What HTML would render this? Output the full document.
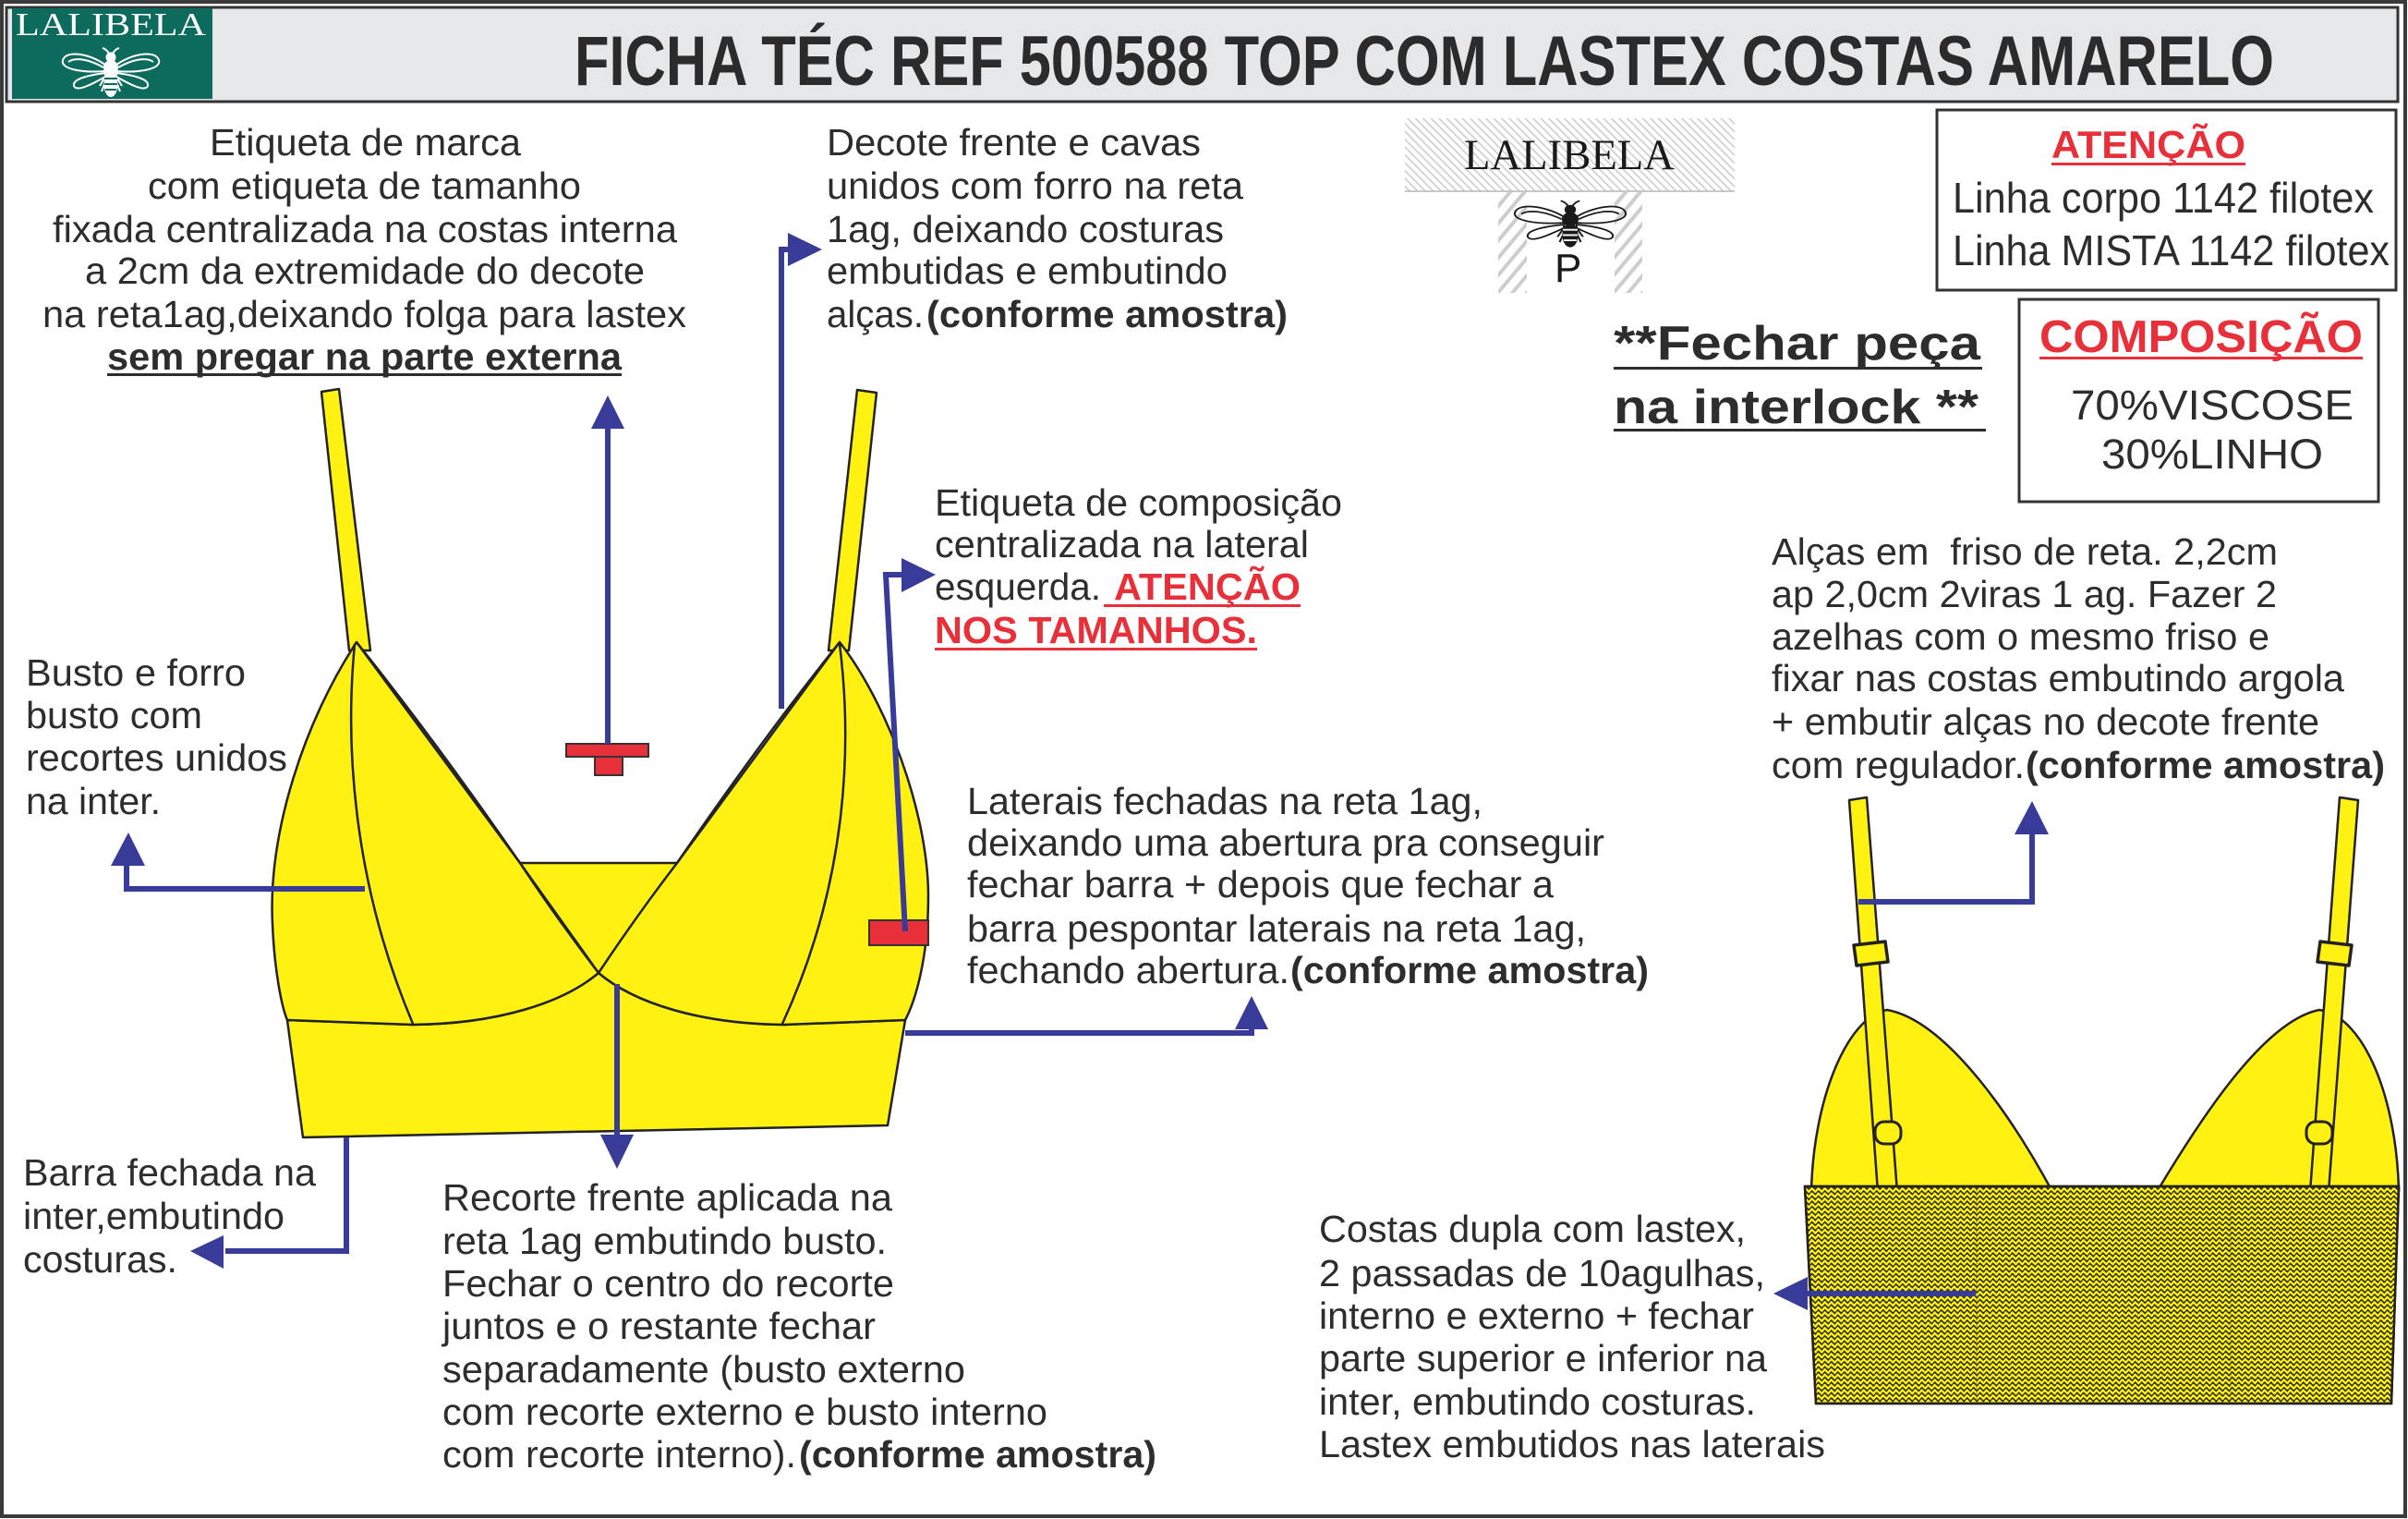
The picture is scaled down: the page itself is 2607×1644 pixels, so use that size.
<!DOCTYPE html>
<html><head><meta charset="utf-8"><style>
html,body{margin:0;padding:0;background:#fff;}
svg{display:block;}
.t{font-family:"Liberation Sans",Arial,sans-serif;font-size:41px;fill:#2d2d2d;}
.b{font-weight:bold;}
.r{fill:#e8303a;}
</style></head><body>
<svg width="2607" height="1644" viewBox="0 0 2607 1644" xmlns="http://www.w3.org/2000/svg">
<defs>
<pattern id="hatchA" patternUnits="userSpaceOnUse" width="6" height="6" patternTransform="rotate(-45)"><line x1="3" y1="0" x2="3" y2="6" stroke="#c6c6c6" stroke-width="1.4"/></pattern>
<pattern id="hatchB" patternUnits="userSpaceOnUse" width="12" height="12" patternTransform="rotate(40)"><line x1="6" y1="0" x2="6" y2="12" stroke="#cdcdcd" stroke-width="4"/></pattern>
<pattern id="zig" patternUnits="userSpaceOnUse" width="7" height="5.6"><path d="M0,2.8 L1.75,1.0 L5.25,4.6 L7,2.8" stroke="#26261a" stroke-width="1.6" fill="none"/></pattern>
</defs>

<!-- outer frame -->
<rect x="2" y="2" width="2602" height="1639" fill="#fff" stroke="#3a3a3a" stroke-width="4"/>
<!-- header -->
<rect x="7" y="8" width="2589" height="102" fill="#e6e7e8" stroke="#333" stroke-width="3"/>
<rect x="13" y="9" width="217" height="98" fill="#0d6b5e"/>
<text x="17" y="38" font-family="'Liberation Serif',serif" font-size="35" fill="#fff" textLength="206" lengthAdjust="spacingAndGlyphs">LALIBELA</text>
<!-- logo bee -->
<g transform="translate(120,79)" stroke="#fff" fill="none" stroke-width="2">
<path d="M-5,-8 C-20,-20 -48,-26 -52,-14 C-55,-4 -30,0 -6,-2 Z"/>
<path d="M-8,-6 C-22,-14 -38,-18 -46,-12"/>
<path d="M-6,0 C-22,2 -42,6 -40,14 C-37,21 -20,12 -6,4 Z"/>
<path d="M5,-8 C20,-20 48,-26 52,-14 C55,-4 30,0 6,-2 Z"/>
<path d="M8,-6 C22,-14 38,-18 46,-12"/>
<path d="M6,0 C22,2 42,6 40,14 C37,21 20,12 6,4 Z"/>
<path d="M-2,-21 Q-5,-26 -9,-27 M2,-21 Q5,-26 9,-27"/>
<path d="M-6,4 L-12,14 M6,4 L12,14 M-6,10 L-10,20 M6,10 L10,20"/>
<circle cx="0" cy="-17" r="4.5" fill="#fff"/>
<ellipse cx="0" cy="-6" rx="7" ry="7" fill="#fff"/>
<ellipse cx="0" cy="12" rx="6.5" ry="13" fill="#fff"/>
<path d="M-7,6 L7,6 M-7,12 L7,12 M-6,18 L6,18" stroke="#0d6b5e" stroke-width="2"/>
</g>
<text x="622" y="92" font-family="'Liberation Sans',Arial,sans-serif" font-weight="bold" font-size="76" fill="#2b2b2b" textLength="1840" lengthAdjust="spacingAndGlyphs">FICHA TÉC REF 500588 TOP COM LASTEX COSTAS AMARELO</text>

<!-- tag -->
<rect x="1521" y="128" width="357" height="79" fill="url(#hatchA)"/>
<line x1="1521" y1="207" x2="1878" y2="207" stroke="#b5b5b5" stroke-width="1.5"/>
<text x="1585" y="183" font-family="'Liberation Serif',serif" font-size="47" fill="#1a1a1a" textLength="228" lengthAdjust="spacingAndGlyphs">LALIBELA</text>
<rect x="1622" y="208" width="31" height="109" fill="url(#hatchB)"/>
<rect x="1748" y="208" width="30" height="109" fill="url(#hatchB)"/>
<g transform="translate(1700,243) scale(1.15,0.95)" stroke="#1a1a1a" fill="none" stroke-width="1.8">
<path d="M-5,-8 C-20,-20 -48,-26 -52,-14 C-55,-4 -30,0 -6,-2 Z"/>
<path d="M-8,-6 C-22,-14 -38,-18 -46,-12"/>
<path d="M-6,0 C-22,2 -42,6 -40,14 C-37,21 -20,12 -6,4 Z"/>
<path d="M5,-8 C20,-20 48,-26 52,-14 C55,-4 30,0 6,-2 Z"/>
<path d="M8,-6 C22,-14 38,-18 46,-12"/>
<path d="M6,0 C22,2 42,6 40,14 C37,21 20,12 6,4 Z"/>
<path d="M-2,-21 Q-5,-26 -9,-27 M2,-21 Q5,-26 9,-27"/>
<path d="M-6,4 L-12,14 M6,4 L12,14 M-6,10 L-10,20 M6,10 L10,20"/>
<circle cx="0" cy="-17" r="4.5" fill="#1a1a1a"/>
<ellipse cx="0" cy="-6" rx="7" ry="7" fill="#1a1a1a"/>
<ellipse cx="0" cy="12" rx="6.5" ry="13" fill="#1a1a1a"/>
<path d="M-7,6 L7,6 M-7,12 L7,12 M-6,18 L6,18" stroke="#fff" stroke-width="2"/>
</g>
<text x="1683" y="305" font-family="'Liberation Sans',Arial,sans-serif" font-size="44" fill="#1a1a1a">P</text>

<!-- right boxes -->
<rect x="2097" y="119" width="497" height="195" fill="#fff" stroke="#333" stroke-width="3"/>
<text class="t b r" x="2221" y="171" style="font-size:42px" textLength="210" lengthAdjust="spacingAndGlyphs">ATENÇÃO</text>
<rect x="2221" y="176" width="210" height="3" fill="#e8303a"/>
<text class="t" x="2114" y="230" style="font-size:46px" textLength="456" lengthAdjust="spacingAndGlyphs">Linha corpo 1142 filotex</text>
<text class="t" x="2114" y="287" style="font-size:46px" textLength="473" lengthAdjust="spacingAndGlyphs">Linha MISTA 1142 filotex</text>

<rect x="2186" y="324" width="389" height="219" fill="#fff" stroke="#333" stroke-width="3"/>
<text class="t b r" x="2208" y="381" style="font-size:49px" textLength="350" lengthAdjust="spacingAndGlyphs">COMPOSIÇÃO</text>
<rect x="2208" y="386" width="350" height="3" fill="#e8303a"/>
<text class="t" x="2242" y="454" style="font-size:45px" textLength="306" lengthAdjust="spacingAndGlyphs">70%VISCOSE</text>
<text class="t" x="2275" y="507" style="font-size:45px" textLength="240" lengthAdjust="spacingAndGlyphs">30%LINHO</text>

<text class="t b" x="1747" y="389" style="font-size:52px" textLength="397" lengthAdjust="spacingAndGlyphs">**Fechar peça</text>
<rect x="1747" y="397" width="399" height="3" fill="#2d2d2d"/>
<text class="t b" x="1747" y="458" style="font-size:52px" textLength="395" lengthAdjust="spacingAndGlyphs">na interlock **</text>
<rect x="1747" y="464" width="403" height="3" fill="#2d2d2d"/>

<!-- left top block -->
<text class="t" x="227" y="168" textLength="337" lengthAdjust="spacingAndGlyphs">Etiqueta de marca</text>
<text class="t" x="160" y="215" textLength="469" lengthAdjust="spacingAndGlyphs">com etiqueta de tamanho</text>
<text class="t" x="57" y="262" textLength="676" lengthAdjust="spacingAndGlyphs">fixada centralizada na costas interna</text>
<text class="t" x="92" y="307" textLength="606" lengthAdjust="spacingAndGlyphs">a 2cm da extremidade do decote</text>
<text class="t" x="46" y="354" textLength="697" lengthAdjust="spacingAndGlyphs">na reta1ag,deixando folga para lastex</text>
<text class="t b" x="116" y="400" textLength="557" lengthAdjust="spacingAndGlyphs">sem pregar na parte externa</text>
<rect x="116" y="404" width="557" height="3" fill="#2d2d2d"/>

<!-- decote block -->
<text class="t" x="895" y="168" textLength="405" lengthAdjust="spacingAndGlyphs">Decote frente e cavas</text>
<text class="t" x="895" y="215" textLength="451" lengthAdjust="spacingAndGlyphs">unidos com forro na reta</text>
<text class="t" x="895" y="262" textLength="430" lengthAdjust="spacingAndGlyphs">1ag, deixando costuras</text>
<text class="t" x="895" y="307" textLength="434" lengthAdjust="spacingAndGlyphs">embutidas e embutindo</text>
<text class="t" x="895" y="354" textLength="105" lengthAdjust="spacingAndGlyphs">alças.</text>
<text class="t b" x="1003" y="354" textLength="391" lengthAdjust="spacingAndGlyphs">(conforme amostra)</text>

<!-- etiqueta composicao -->
<text class="t" x="1012" y="558" textLength="441" lengthAdjust="spacingAndGlyphs">Etiqueta de composição</text>
<text class="t" x="1012" y="603" textLength="405" lengthAdjust="spacingAndGlyphs">centralizada na lateral</text>
<text class="t" x="1012" y="649" textLength="180" lengthAdjust="spacingAndGlyphs">esquerda.</text>
<text class="t b r" x="1206" y="649" textLength="202" lengthAdjust="spacingAndGlyphs">ATENÇÃO</text>
<rect x="1195" y="654" width="213" height="3" fill="#e8303a"/>
<text class="t b r" x="1012" y="696" textLength="349" lengthAdjust="spacingAndGlyphs">NOS TAMANHOS.</text>
<rect x="1012" y="701" width="349" height="3" fill="#e8303a"/>

<!-- laterais -->
<text class="t" x="1047" y="881" textLength="558" lengthAdjust="spacingAndGlyphs">Laterais fechadas na reta 1ag,</text>
<text class="t" x="1047" y="926" textLength="690" lengthAdjust="spacingAndGlyphs">deixando uma abertura pra conseguir</text>
<text class="t" x="1047" y="971" textLength="635" lengthAdjust="spacingAndGlyphs">fechar barra + depois que fechar a</text>
<text class="t" x="1047" y="1019" textLength="670" lengthAdjust="spacingAndGlyphs">barra pespontar laterais na reta 1ag,</text>
<text class="t" x="1047" y="1064" textLength="349" lengthAdjust="spacingAndGlyphs">fechando abertura.</text>
<text class="t b" x="1397" y="1064" textLength="388" lengthAdjust="spacingAndGlyphs">(conforme amostra)</text>

<!-- busto -->
<text class="t" x="28" y="742" textLength="238" lengthAdjust="spacingAndGlyphs">Busto e forro</text>
<text class="t" x="28" y="788" textLength="191" lengthAdjust="spacingAndGlyphs">busto com</text>
<text class="t" x="28" y="834" textLength="283" lengthAdjust="spacingAndGlyphs">recortes unidos</text>
<text class="t" x="28" y="881" textLength="146" lengthAdjust="spacingAndGlyphs">na inter.</text>

<!-- barra -->
<text class="t" x="25" y="1283" textLength="317" lengthAdjust="spacingAndGlyphs">Barra fechada na</text>
<text class="t" x="25" y="1330" textLength="283" lengthAdjust="spacingAndGlyphs">inter,embutindo</text>
<text class="t" x="25" y="1377" textLength="167" lengthAdjust="spacingAndGlyphs">costuras.</text>

<!-- recorte -->
<text class="t" x="479" y="1310" textLength="487" lengthAdjust="spacingAndGlyphs">Recorte frente aplicada na</text>
<text class="t" x="479" y="1357" textLength="481" lengthAdjust="spacingAndGlyphs">reta 1ag embutindo busto.</text>
<text class="t" x="479" y="1403" textLength="489" lengthAdjust="spacingAndGlyphs">Fechar o centro do recorte</text>
<text class="t" x="479" y="1449" textLength="469" lengthAdjust="spacingAndGlyphs">juntos e o restante fechar</text>
<text class="t" x="479" y="1496" textLength="566" lengthAdjust="spacingAndGlyphs">separadamente (busto externo</text>
<text class="t" x="479" y="1542" textLength="655" lengthAdjust="spacingAndGlyphs">com recorte externo e busto interno</text>
<text class="t" x="479" y="1588" textLength="383" lengthAdjust="spacingAndGlyphs">com recorte interno).</text>
<text class="t b" x="865" y="1588" textLength="387" lengthAdjust="spacingAndGlyphs">(conforme amostra)</text>

<!-- alcas -->
<text class="t" x="1918" y="611" style="white-space:pre" textLength="548" lengthAdjust="spacingAndGlyphs">Alças em  friso de reta. 2,2cm</text>
<text class="t" x="1918" y="657" textLength="547" lengthAdjust="spacingAndGlyphs">ap 2,0cm 2viras 1 ag. Fazer 2</text>
<text class="t" x="1918" y="703" textLength="539" lengthAdjust="spacingAndGlyphs">azelhas com o mesmo friso e</text>
<text class="t" x="1918" y="748" textLength="620" lengthAdjust="spacingAndGlyphs">fixar nas costas embutindo argola</text>
<text class="t" x="1918" y="795" textLength="593" lengthAdjust="spacingAndGlyphs">+ embutir alças no decote frente</text>
<text class="t" x="1918" y="842" textLength="274" lengthAdjust="spacingAndGlyphs">com regulador.</text>
<text class="t b" x="2193" y="842" textLength="389" lengthAdjust="spacingAndGlyphs">(conforme amostra)</text>

<!-- costas -->
<text class="t" x="1428" y="1344" textLength="462" lengthAdjust="spacingAndGlyphs">Costas dupla com lastex,</text>
<text class="t" x="1428" y="1392" textLength="483" lengthAdjust="spacingAndGlyphs">2 passadas de 10agulhas,</text>
<text class="t" x="1428" y="1438" textLength="471" lengthAdjust="spacingAndGlyphs">interno e externo + fechar</text>
<text class="t" x="1428" y="1484" textLength="485" lengthAdjust="spacingAndGlyphs">parte superior e inferior na</text>
<text class="t" x="1428" y="1531" textLength="473" lengthAdjust="spacingAndGlyphs">inter, embutindo costuras.</text>
<text class="t" x="1428" y="1577" textLength="548" lengthAdjust="spacingAndGlyphs">Lastex embutidos nas laterais</text>

<!-- FRONT GARMENT -->
<g stroke="#222" stroke-width="2.5" fill="#fff212" stroke-linejoin="round">
<polygon points="348,424 367,421 401,704 378,704"/>
<polygon points="928,422 949,425 919,704 897,704"/>
<path d="M311,1104 L447,1109 C540,1108 610,1085 648,1053 C686,1085 756,1108 849,1109 L980,1104 L961,1218 L328,1231 Z"/>
<path d="M563,934 L733,934 L648,1053 Z"/>
<path d="M386,695 C330,780 290,900 295,1000 C297,1050 305,1090 311,1104 L447,1109 C540,1108 610,1085 648,1053 Q600,990 563,934 Z"/>
<path d="M909,695 C960,760 1005,880 1005,970 C1005,1040 990,1085 980,1104 L849,1109 C756,1108 686,1085 648,1053 Q690,990 733,934 Z"/>
<path d="M563,934 Q470,800 386,695" fill="none"/>
<path d="M733,934 Q825,800 909,695" fill="none"/>
<path d="M384,697 C374,800 380,950 447,1108" fill="none"/>
<path d="M909,697 C922,800 920,950 847,1108" fill="none"/>
</g>
<!-- red labels -->
<g fill="#e8303a" stroke="#333" stroke-width="2">
<rect x="613" y="805" width="89" height="14"/>
<rect x="644" y="819" width="30" height="20"/>
<rect x="941" y="996" width="64" height="27"/>
</g>

<!-- BACK GARMENT -->
<g stroke="#222" stroke-width="2.5" fill="#fff212" stroke-linejoin="round">
<path d="M1961,1290 C1963,1190 2000,1100 2043,1093 C2110,1105 2185,1220 2222,1290 Z"/>
<path d="M2335,1290 C2380,1215 2450,1105 2511,1093 C2560,1100 2595,1190 2597,1290 Z"/>
<polygon points="2002,866 2021,863 2054,1290 2033,1290"/>
<polygon points="2533,863 2553,866 2521,1290 2501,1290"/>
<polygon points="2007,1023 2041,1019 2044,1041 2010,1045" stroke-width="3.5"/>
<polygon points="2512,1019 2546,1023 2543,1045 2509,1041" stroke-width="3.5"/>
<rect x="2030" y="1214" width="28" height="24" rx="10" stroke-width="3"/>
<rect x="2497" y="1214" width="28" height="24" rx="10" stroke-width="3"/>
<polygon points="1954,1284 2597,1284 2589,1519 1966,1519"/>
</g>
<polygon points="1954,1284 2597,1284 2589,1519 1966,1519" fill="url(#zig)"/>
<line x1="2140" y1="1286" x2="2140" y2="1517" stroke="#555" stroke-width="1" opacity="0.5"/>
<line x1="2415" y1="1286" x2="2415" y2="1517" stroke="#555" stroke-width="1" opacity="0.5"/>
<polygon points="1954,1284 2597,1284 2589,1519 1966,1519" fill="none" stroke="#222" stroke-width="2.5"/>

<!-- CONNECTORS -->
<g stroke="#383b97" stroke-width="6" fill="none">
<line x1="658" y1="805" x2="658" y2="462"/>
<polyline points="846,767 846,270 856,270"/>
<polyline points="980,1008 959,622 978,622"/>
<polyline points="395,962 137,962 137,935"/>
<polyline points="980,1118 1355,1118 1355,1112"/>
<line x1="668" y1="1065" x2="668" y2="1230"/>
<polyline points="375,1231 375,1354 244,1354"/>
<polyline points="2012,976 2200,976 2200,901"/>
<line x1="2139" y1="1400" x2="1955" y2="1400"/>
</g>
<g fill="#383b97">
<polygon points="640,464 676,464 658,428"/>
<polygon points="853,252 853,288 890,270"/>
<polygon points="976,604 976,641 1013,622"/>
<polygon points="120,937 157,937 139,901"/>
<polygon points="1337,1114 1373,1114 1355,1078"/>
<polygon points="650,1228 686,1228 668,1265"/>
<polygon points="242,1337 242,1373 206,1354"/>
<polygon points="2181,903 2218,903 2200,867"/>
<polygon points="1957,1382 1957,1418 1920,1400"/>
</g>
</svg>
</body></html>
